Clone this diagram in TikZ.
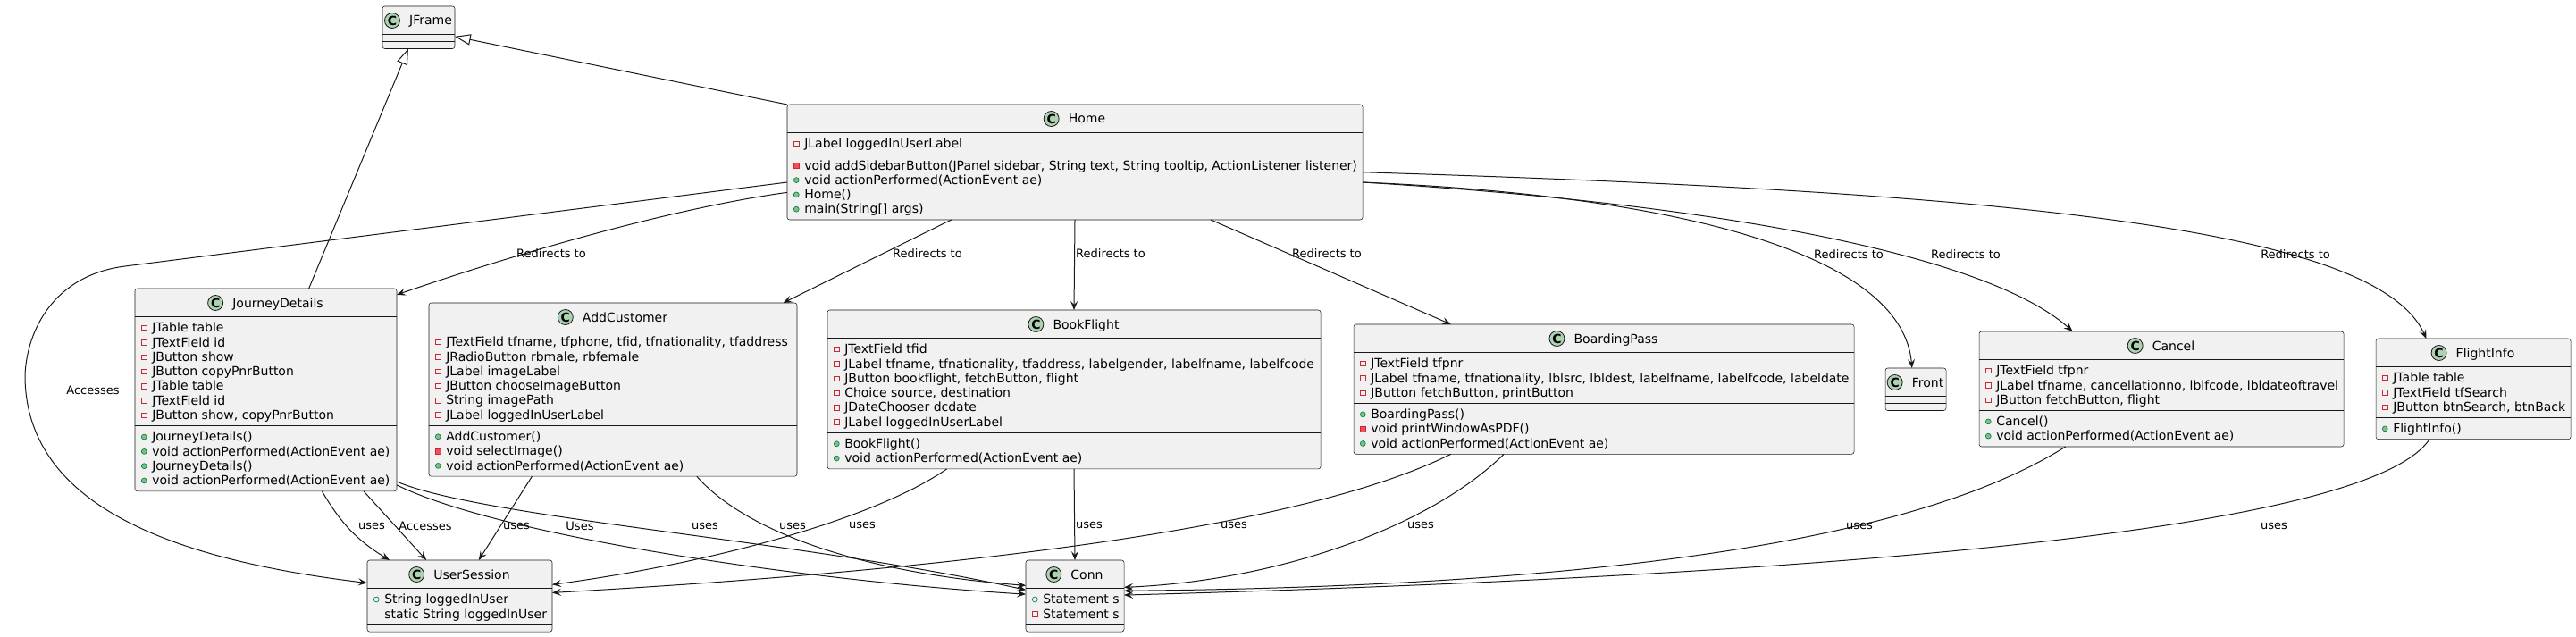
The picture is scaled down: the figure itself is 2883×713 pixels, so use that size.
\documentclass[tikz,border=0pt]{standalone}
\usepackage{fontspec}
\setmainfont{DejaVu Sans}
\usepackage{xcolor}
\usepackage{tikz}
\usetikzlibrary{arrows.meta, positioning, fit}

\definecolor{umlfill}{HTML}{F1F1F1}
\definecolor{umlline}{HTML}{181818}
\definecolor{cfill}{HTML}{ADD1B2}
\definecolor{privred}{HTML}{C82930}
\definecolor{privfill}{HTML}{F24D5C}
\definecolor{pubgreen}{HTML}{038048}
\definecolor{pubfill}{HTML}{84BE84}

% visibility marks
\newcommand{\ipriv}{\makebox[13.5pt]{\tikz[baseline=-3.6pt]\draw[privred, line width=0.5pt] (-2pt,-2pt) rectangle (2pt,2pt);}}
\newcommand{\iprivm}{\makebox[13.5pt]{\tikz[baseline=-3.6pt]\draw[privred, fill=privfill, line width=0.5pt] (-2.1pt,-2.1pt) rectangle (2.1pt,2.1pt);}}
\newcommand{\ipub}{\makebox[13.5pt]{\tikz[baseline=-3.6pt]\draw[pubgreen, fill=pubfill, line width=0.5pt] (0,0) circle (2.2pt);}}
\newcommand{\ipubf}{\makebox[13.5pt]{\tikz[baseline=-3.6pt]\draw[pubgreen, line width=0.5pt] (0,0) circle (2.2pt);}}
\newcommand{\inone}{\makebox[13.5pt]{}}

% class box: name, left, top, right, no. of attributes, no. of methods, title, attributes, methods
\newcommand{\umlclass}[9]{%
  \pgfmathsetmacro{\sepa}{#3+31.5}%
  \pgfmathsetmacro{\sepb}{\sepa+8+16.3*#5}%
  \pgfmathsetmacro{\clsbot}{\sepb+8+16.3*#6}%
  \pgfmathsetmacro{\midx}{(#2+#4)/2+13.5}%
  \node[cls, fit={(#2,-#3) (#4,-\clsbot)}] (#1) {};%
  \draw[sepline] (#2,-\sepa) -- (#4,-\sepa);%
  \draw[sepline] (#2,-\sepb) -- (#4,-\sepb);%
  \node[ctitle] (#1-t) at (\midx,-#3-16) {#7};%
  \node[cicon, left=7.5pt of #1-t] (#1-c) {C};%
  \ifnum#5>0 \node[members] (#1-a) at (#2+1,-\sepa-5.6) {\strut#8};\fi%
  \ifnum#6>0 \node[members] (#1-m) at (#2+1,-\sepb-5.6) {\strut#9};\fi%
}

\begin{document}
\begin{tikzpicture}[x=0.75pt, y=0.75pt,
    cls/.style={draw=umlline, fill=umlfill, line width=0.4pt, rounded corners=2pt, inner sep=0pt, outer sep=0pt},
    sepline/.style={draw=umlline, line width=0.4pt},
    ctitle/.style={inner sep=0pt, text height=7.5pt, text depth=0pt, font=\fontsize{10.5}{12.6}\selectfont},
    cicon/.style={circle, draw=umlline, fill=cfill, line width=0.6pt, minimum size=12.75pt, inner sep=0pt, font=\bfseries\fontsize{10.5}{10.5}\selectfont},
    members/.style={anchor=north west, align=left, inner sep=0pt, font=\fontsize{10.5}{12.225}\selectfont},
    dep/.style={draw=umlline, line width=0.75pt, -{Stealth[length=7.5pt, width=6pt, inset=3pt]}},
    inh/.style={draw=umlline, line width=0.75pt, -{Triangle[length=13.3pt, width=9.2pt, fill=white]}},
    lbl/.style={inner sep=0pt, font=\fontsize{9.75}{11.7}\selectfont}]
    \useasboundingbox (0,0) rectangle (2883,-713);

    % classes
    \umlclass{JFrame}{428}{7}{509}{0}{0}{JFrame}{}{}
    \umlclass{Home}{881}{117}{1525}{1}{4}{Home}
        {\ipriv JLabel loggedInUserLabel}
        {\iprivm void addSidebarButton(JPanel sidebar, String text, String tooltip, ActionListener listener)\\
         \ipub void actionPerformed(ActionEvent ae)\\ \ipub Home()\\ \ipub main(String[] args)}
    \umlclass{JourneyDetails}{151}{323}{444}{7}{4}{JourneyDetails}
        {\ipriv JTable table\\ \ipriv JTextField id\\ \ipriv JButton show\\ \ipriv JButton copyPnrButton\\
         \ipriv JTable table\\ \ipriv JTextField id\\ \ipriv JButton show, copyPnrButton}
        {\ipub JourneyDetails()\\ \ipub void actionPerformed(ActionEvent ae)\\
         \ipub JourneyDetails()\\ \ipub void actionPerformed(ActionEvent ae)}
    \umlclass{AddCustomer}{480}{339}{892}{6}{3}{AddCustomer}
        {\ipriv JTextField tfname, tfphone, tfid, tfnationality, tfaddress\\ \ipriv JRadioButton rbmale, rbfemale\\
         \ipriv JLabel imageLabel\\ \ipriv JButton chooseImageButton\\ \ipriv String imagePath\\ \ipriv JLabel loggedInUserLabel}
        {\ipub AddCustomer()\\ \iprivm void selectImage()\\ \ipub void actionPerformed(ActionEvent ae)}
    \umlclass{BookFlight}{926}{347}{1478}{6}{2}{BookFlight}
        {\ipriv JTextField tfid\\ \ipriv JLabel tfname, tfnationality, tfaddress, labelgender, labelfname, labelfcode\\
         \ipriv JButton bookflight, fetchButton, flight\\ \ipriv Choice source, destination\\
         \ipriv JDateChooser dcdate\\ \ipriv JLabel loggedInUserLabel}
        {\ipub BookFlight()\\ \ipub void actionPerformed(ActionEvent ae)}
    \umlclass{BoardingPass}{1515}{363}{2075}{3}{3}{BoardingPass}
        {\ipriv JTextField tfpnr\\ \ipriv JLabel tfname, tfnationality, lblsrc, lbldest, labelfname, labelfcode, labeldate\\
         \ipriv JButton fetchButton, printButton}
        {\ipub BoardingPass()\\ \iprivm void printWindowAsPDF()\\ \ipub void actionPerformed(ActionEvent ae)}
    \umlclass{Front}{2110}{412}{2178}{0}{0}{Front}{}{}
    \umlclass{Cancel}{2215}{371}{2623}{3}{2}{Cancel}
        {\ipriv JTextField tfpnr\\ \ipriv JLabel tfname, cancellationno, lblfcode, lbldateoftravel\\
         \ipriv JButton fetchButton, flight}
        {\ipub Cancel()\\ \ipub void actionPerformed(ActionEvent ae)}
    \umlclass{FlightInfo}{2659}{379}{2877}{3}{1}{FlightInfo}
        {\ipriv JTable table\\ \ipriv JTextField tfSearch\\ \ipriv JButton btnSearch, btnBack}
        {\ipub FlightInfo()}
    \umlclass{UserSession}{411}{627}{618}{2}{0}{UserSession}
        {\ipubf String loggedInUser\\ \inone static String loggedInUser}{}
    \umlclass{Conn}{1148}{627}{1258}{2}{0}{Conn}
        {\ipubf Statement s\\ \ipriv Statement s}{}

    % inheritance
    \draw[inh] (JourneyDetails.67) -- (JFrame.244);
    \draw[inh] (Home.north west) -- (JFrame.346);

    % Home redirects
    \draw[dep] (Home.184) -- (140,-298) .. controls (60,-308) and (30,-370) .. (28,-420)
        .. controls (28,-560) and (180,-625) .. (UserSession.172);
    \node[lbl] (acc1) at (104,-437) {Accesses};
    \draw[dep] (Home.186) .. controls (740,-235) and (560,-290) .. (JourneyDetails.36);
    \node[lbl] (r1) at (617,-284) {Redirects to};
    \draw[dep] (Home.205) -- (AddCustomer.27);
    \node[lbl] (r2) at (1038,-284) {Redirects to};
    \draw[dep] (Home.south) -- (BookFlight.north);
    \node[lbl] (r3) at (1243,-284) {Redirects to};
    \draw[dep] (Home.337) -- (BoardingPass.157);
    \node[lbl] (r4) at (1485,-284) {Redirects to};
    \draw[dep] (Home.356) .. controls (1900,-220) and (2130,-290) .. (Front.100);
    \node[lbl] (r5) at (2069,-285) {Redirects to};
    \draw[dep] (Home.356) .. controls (1950,-230) and (2230,-290) .. (Cancel.147);
    \node[lbl] (r6) at (2200,-285) {Redirects to};
    \draw[dep] (Home.358) .. controls (2250,-215) and (2660,-255) .. (FlightInfo.133);
    \node[lbl] (r7) at (2569,-285) {Redirects to};

    % uses UserSession
    \draw[dep] (JourneyDetails.299) to[bend right=14] (UserSession.153);
    \node[lbl] (u1) at (416,-589) {uses};
    \draw[dep] (JourneyDetails.314) -- (UserSession.133);
    \node[lbl] (acc2) at (476,-589) {Accesses};
    \draw[dep] (AddCustomer.227) -- (UserSession.62);
    \node[lbl] (u2) at (578,-589) {uses};
    \draw[dep] (BookFlight.212) .. controls (980,-580) and (800,-630) .. (UserSession.7);
    \node[lbl] (u3) at (965,-588) {uses};
    \draw[dep] (BoardingPass.203) .. controls (1470,-585) and (1120,-635) .. (UserSession.2);
    \node[lbl] (u4) at (1381,-588) {uses};

    % uses Conn
    \draw[dep] (JourneyDetails.324) .. controls (560,-600) and (900,-650) .. (Conn.178);
    \node[lbl] (u5) at (649,-589) {Uses};
    \draw[dep] (JourneyDetails.325) .. controls (540,-580) and (900,-605) .. (Conn.173);
    \node[lbl] (u6) at (789,-589) {uses};
    \draw[dep] (AddCustomer.314) .. controls (830,-590) and (950,-640) .. (Conn.168);
    \node[lbl] (u7) at (887,-589) {uses};
    \draw[dep] (BookFlight.south) -- (Conn.north);
    \node[lbl] (u8) at (1219,-588) {uses};
    \draw[dep] (BoardingPass.213) .. controls (1600,-590) and (1430,-650) .. (Conn.10);
    \node[lbl] (u9) at (1590,-588) {uses};
    \draw[dep] (Cancel.211) .. controls (2200,-570) and (1950,-655) .. (Conn.6);
    \node[lbl] (u10) at (2081,-589) {uses};
    \draw[dep] (FlightInfo.229) .. controls (2660,-580) and (2200,-640) .. (Conn.1);
    \node[lbl] (u11) at (2545,-589) {uses};
\end{tikzpicture}
\end{document}
